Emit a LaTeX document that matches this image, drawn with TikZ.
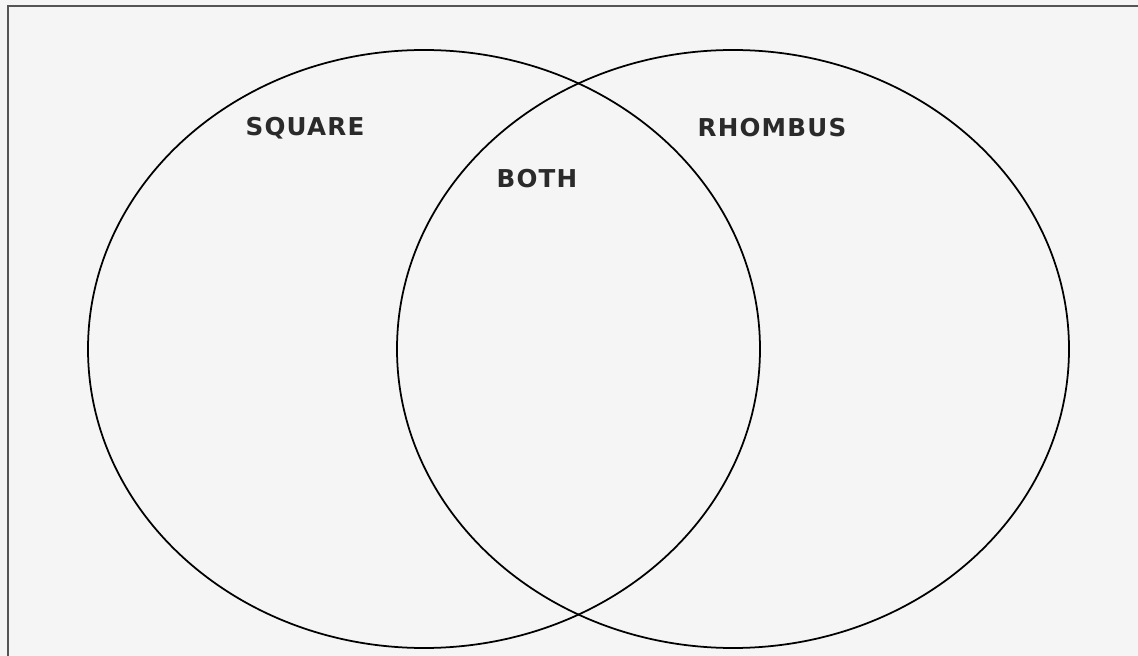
\documentclass[tikz,border=0pt]{standalone}
\usepackage{fontspec}
\setmainfont{DejaVu Sans}
\usepackage{tikz}
\usetikzlibrary{positioning}
\definecolor{bgpaper}{HTML}{F5F5F5}
\definecolor{frameline}{HTML}{555555}
\definecolor{labeltext}{HTML}{2A2A2A}

\begin{document}
\begin{tikzpicture}[x=0.03cm, y=-0.03cm,
    setname/.style={font=\bfseries\fontsize{21}{24}\selectfont\addfontfeature{LetterSpace=5}, text=labeltext, inner sep=0pt},
    setline/.style={black, line width=1.5pt}]
    % background and frame
    \fill[bgpaper] (0,0) rectangle (1138,656);
    \useasboundingbox (0,0) rectangle (1138,656);
    \draw[frameline, line width=1.6pt] (8,660) -- (8,6) -- (1142,6);

    % the two sets
    \draw[setline] (424,349) ellipse [x radius=336, y radius=299];
    \draw[setline] (733,349) ellipse [x radius=336, y radius=299];

    % labels
    \node[setname] (square) at (305,128) {SQUARE};
    \node[setname] (rhombus) at (772,128) {RHOMBUS};
    \node[setname] (both) at (537,179) {BOTH};
\end{tikzpicture}
\end{document}
